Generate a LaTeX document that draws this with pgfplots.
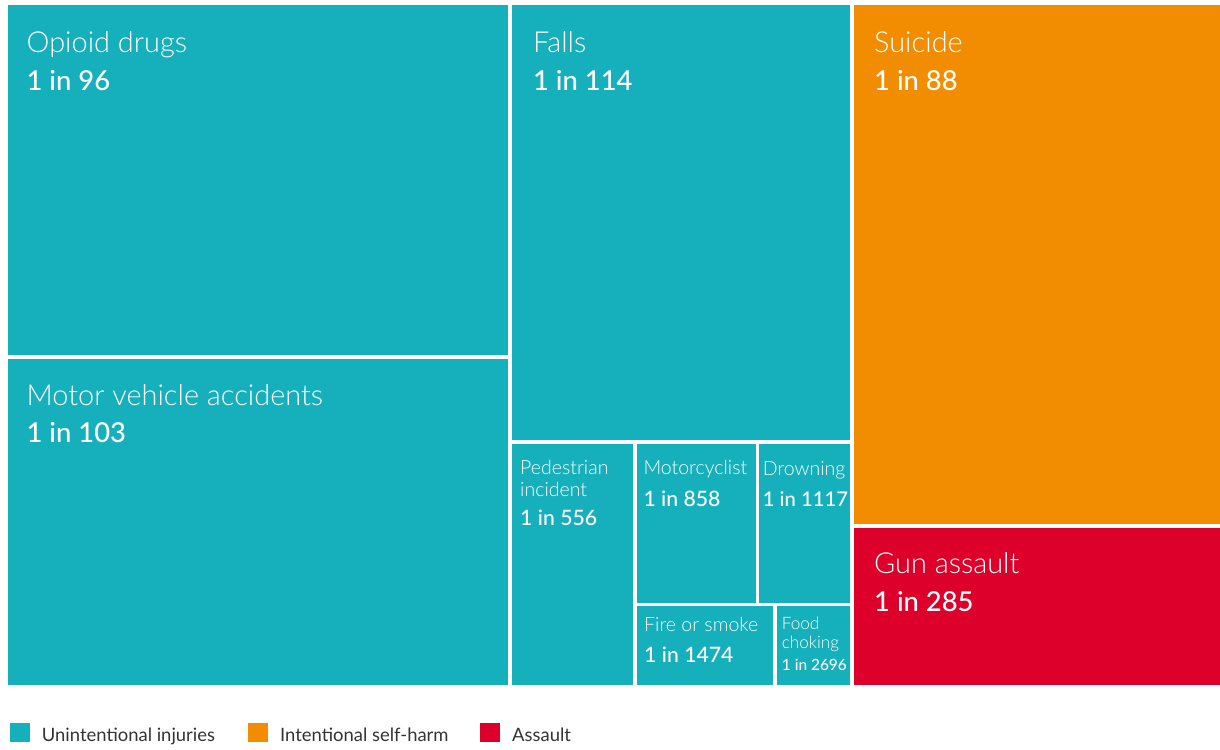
\documentclass[border=0pt]{standalone}
\usepackage{pgfplots}
\pgfplotsset{compat=1.18}
\usepackage{fontspec}
\setmainfont{Lato}
\newfontfamily\lightfont{Lato Light}
\newfontfamily\medfont{Lato Medium}
\definecolor{cteal}{RGB}{21,176,188}
\definecolor{corange}{RGB}{242,140,0}
\definecolor{cred}{RGB}{221,0,43}
\definecolor{ctext}{RGB}{51,51,51}
\tikzset{
  bigname/.style={anchor=base west,text=white,inner sep=0pt,font=\lightfont\fontsize{29}{32}\selectfont},
  bignum/.style={anchor=base west,text=white,inner sep=0pt,font=\medfont\fontsize{27.5}{30}\selectfont},
  smname/.style={anchor=base west,text=white,inner sep=0pt,font=\lightfont\fontsize{19.6}{22}\selectfont},
  smnum/.style={anchor=base west,text=white,inner sep=0pt,font=\medfont\fontsize{21.3}{24}\selectfont},
  legtext/.style={anchor=base west,text=ctext,inner sep=0pt,font=\fontsize{18.5}{20}\selectfont},
}
\begin{document}
\begin{tikzpicture}
\begin{axis}[width=1220bp,height=749bp,scale only axis,
  xmin=0,xmax=1220,ymin=0,ymax=749,y dir=reverse,hide axis,clip=false]
\addplot[draw=none] coordinates {(0,0) (1220,749)};
% unintentional injuries
\addplot[draw=none,fill=cteal] coordinates {(7.5,5) (508,5) (508,355) (7.5,355)} --cycle;
\addplot[draw=none,fill=cteal] coordinates {(7.5,358.5) (508,358.5) (508,685) (7.5,685)} --cycle;
\addplot[draw=none,fill=cteal] coordinates {(511.5,5) (849.5,5) (849.5,440) (511.5,440)} --cycle;
\addplot[draw=none,fill=cteal] coordinates {(511.5,443.5) (632.5,443.5) (632.5,685) (511.5,685)} --cycle;
\addplot[draw=none,fill=cteal] coordinates {(636.5,443.5) (755.5,443.5) (755.5,602.5) (636.5,602.5)} --cycle;
\addplot[draw=none,fill=cteal] coordinates {(759,443.5) (849.5,443.5) (849.5,602.5) (759,602.5)} --cycle;
\addplot[draw=none,fill=cteal] coordinates {(636.5,606) (773,606) (773,685) (636.5,685)} --cycle;
\addplot[draw=none,fill=cteal] coordinates {(776.5,606) (849.5,606) (849.5,685) (776.5,685)} --cycle;
% self-harm
\addplot[draw=none,fill=corange] coordinates {(853.5,5) (1220,5) (1220,524) (853.5,524)} --cycle;
% assault
\addplot[draw=none,fill=cred] coordinates {(853.5,528) (1220,528) (1220,685) (853.5,685)} --cycle;
% legend squares
\addplot[draw=none,fill=cteal] coordinates {(10,722.5) (30,722.5) (30,742) (10,742)} --cycle;
\addplot[draw=none,fill=corange] coordinates {(248,722.5) (268,722.5) (268,742) (248,742)} --cycle;
\addplot[draw=none,fill=cred] coordinates {(480,722.5) (500,722.5) (500,742) (480,742)} --cycle;

\node[bigname] at (axis cs:26.5,53) {Opioid drugs};
\node[bignum]  at (axis cs:26.5,90.5) {1 in 96};
\node[bigname] at (axis cs:26.5,405) {Motor vehicle accidents};
\node[bignum]  at (axis cs:26.5,442.5) {1 in 103};
\node[bigname] at (axis cs:533,53) {Falls};
\node[bignum]  at (axis cs:533,90.5) {1 in 114};
\node[bigname] at (axis cs:874,53) {Suicide};
\node[bignum]  at (axis cs:874,90.5) {1 in 88};
\node[bigname] at (axis cs:874,573.5) {Gun assault};
\node[bignum]  at (axis cs:874,611.5) {1 in 285};

\node[smname] at (axis cs:520,474.3) {Pedestrian};
\node[smname] at (axis cs:520,496) {incident};
\node[smnum]  at (axis cs:520,525) {1 in 556};
\node[smname] at (axis cs:643.3,474.3) {Motorcyclist};
\node[smnum]  at (axis cs:643.3,506) {1 in 858};
\node[smname] at (axis cs:762.7,475) {Drowning};
\node[smnum,font=\medfont\fontsize{20.3}{24}\selectfont]  at (axis cs:762.7,506) {1 in 1117};
\node[smname] at (axis cs:644,631) {Fire or smoke};
\node[smnum]  at (axis cs:644,662.7) {1 in 1474};
\node[smname,font=\lightfont\fontsize{17.2}{18}\selectfont] at (axis cs:781.7,629.3) {Food};
\node[smname,font=\lightfont\fontsize{17.2}{18}\selectfont] at (axis cs:781.7,648.7) {choking};
\node[smnum,font=\medfont\fontsize{15.5}{18}\selectfont] at (axis cs:781.7,670.7) {1 in 2696};

\node[legtext] at (axis cs:41.7,741.7) {Unintentional injuries};
\node[legtext] at (axis cs:280,741.7) {Intentional self-harm};
\node[legtext] at (axis cs:512,741.7) {Assault};
\end{axis}
\end{tikzpicture}
\end{document}
